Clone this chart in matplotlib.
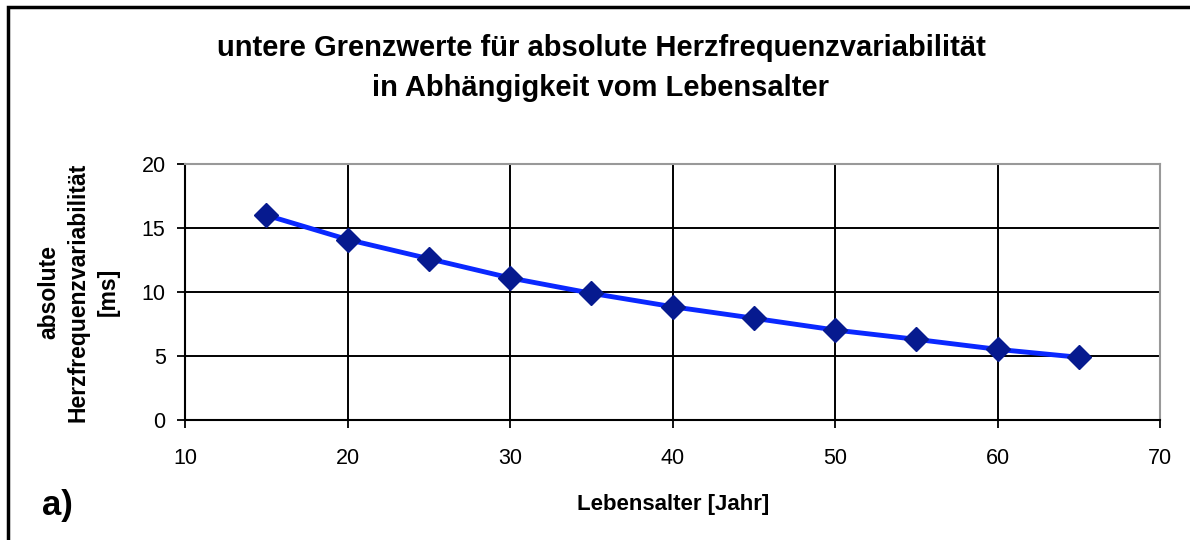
import matplotlib.pyplot as plt
from matplotlib.patches import Rectangle

# Lebensalter [Jahr] und untere Grenzwerte [ms]
age = [15, 20, 25, 30, 35, 40, 45, 50, 55, 60, 65]
hrv_lower = [16.0, 14.1, 12.6, 11.1, 9.9, 8.85, 7.95, 7.03, 6.3, 5.52, 4.9]
x_ticks = [10, 20, 30, 40, 50, 60, 70]
y_ticks = [0, 5, 10, 15, 20]

plt.rcParams['font.family'] = ['Liberation Sans', 'DejaVu Sans']

fig = plt.figure(figsize=(11.9, 5.4), dpi=100)
ax = fig.add_axes([0.1555, 0.2222, 0.8195, 0.4741])

ax.plot(age, hrv_lower, color='#0a28ff', lw=3.5, zorder=3)
ax.plot(age, hrv_lower, linestyle='none', marker='D', markersize=12,
        color='#061a8f', zorder=4)

ax.set_xlim(10, 70)
ax.set_ylim(0, 20)
ax.set_xticks(x_ticks)
ax.set_yticks(y_ticks)
ax.grid(True, color='black', lw=1.4)
ax.set_axisbelow(True)
ax.tick_params(direction='out', length=6, width=1.3, labelsize=15.5)
ax.tick_params(axis='x', pad=14)
ax.tick_params(axis='y', pad=8)

for side in ['left', 'bottom']:
    ax.spines[side].set_color('black')
    ax.spines[side].set_linewidth(1.5)
for side in ['top', 'right']:
    ax.spines[side].set_color('#999999')
    ax.spines[side].set_linewidth(1.5)

ax.set_xlabel('Lebensalter [Jahr]', fontsize=16, fontweight='bold', labelpad=18)
ax.set_ylabel('absolute\nHerzfrequenzvariabilität\n[ms]', fontsize=16.5,
              fontweight='bold', labelpad=16, linespacing=1.35)

fig.text(0.505, 0.912, 'untere Grenzwerte für absolute Herzfrequenzvariabilität',
         ha='center', va='center', fontsize=21, fontweight='bold')
fig.text(0.505, 0.837, 'in Abhängigkeit vom Lebensalter',
         ha='center', va='center', fontsize=21, fontweight='bold')
fig.text(0.035, 0.063, 'a)', ha='left', va='center', fontsize=25, fontweight='bold')

# Rahmen um die Abbildung (rechts und unten ausserhalb des Bildes)
fig.patches.append(Rectangle((0.0065, -0.05), 1.05, 1.037, transform=fig.transFigure,
                             fill=False, edgecolor='black', lw=2.5))

fig.savefig('out.png', dpi=100)
